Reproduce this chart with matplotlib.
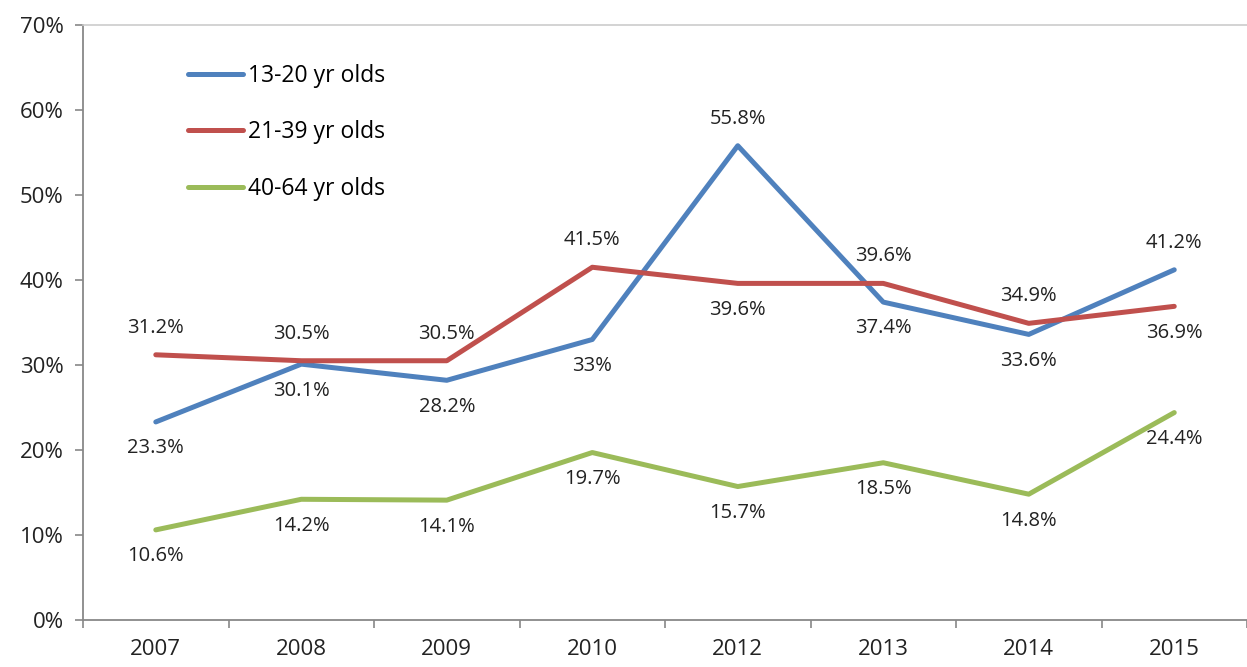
import numpy as np
import matplotlib.pyplot as plt
from matplotlib.ticker import FixedLocator

plt.rcParams['font.family'] = ['Open Sans', 'DejaVu Sans']

years = ['2007', '2008', '2009', '2010', '2012', '2013', '2014', '2015']
teen = [23.3, 30.1, 28.2, 33, 55.8, 37.4, 33.6, 41.2]
young = [31.2, 30.5, 30.5, 41.5, 39.6, 39.6, 34.9, 36.9]
middle = [10.6, 14.2, 14.1, 19.7, 15.7, 18.5, 14.8, 24.4]

# 1 = label above the point, -1 = below
teen_side = [-1, -1, -1, -1, 1, -1, -1, 1]
young_side = [1, 1, 1, 1, -1, 1, 1, -1]
middle_side = [-1, -1, -1, -1, -1, -1, -1, -1]

series = [
    ('13-20 yr olds', teen, teen_side, '#4F81BD'),
    ('21-39 yr olds', young, young_side, '#C0504D'),
    ('40-64 yr olds', middle, middle_side, '#9BBB59'),
]

fig = plt.figure(figsize=(12.47, 6.67), dpi=100)
ax = fig.add_axes([0.0666, 0.0705, 0.9334, 0.892])

x = np.arange(len(years)) + 0.5
for name, vals, side, col in series:
    ax.plot(x, vals, color=col, lw=3.6, label=name, solid_capstyle='round')
    for xi, v, s in zip(x, vals, side):
        txt = ('%g' % v) + '%'
        dy = 19.5 if s > 0 else -19
        ax.annotate(txt, (xi, v), xytext=(0, dy), textcoords='offset points',
                    ha='center', va='center', fontsize=14.5, color='#222222')

ax.set_xlim(0, len(years))
ax.set_ylim(0, 70)
ax.set_yticks(np.arange(0, 71, 10))
ax.set_yticklabels(['%d%%' % v for v in range(0, 71, 10)])
ax.xaxis.set_major_locator(FixedLocator(np.arange(0, len(years) + 1)))
ax.xaxis.set_minor_locator(FixedLocator(x))
ax.set_xticklabels([], minor=False)
ax.set_xticklabels(years, minor=True)
ax.tick_params(axis='x', which='major', length=6, color='#888888', width=1.2)
ax.tick_params(axis='x', which='minor', length=0, pad=14, labelsize=16, labelcolor='#222222')
ax.tick_params(axis='y', length=6, color='#888888', width=1.2, pad=8, labelsize=16, labelcolor='#222222')

for sp in ['left', 'bottom']:
    ax.spines[sp].set_color('#888888')
    ax.spines[sp].set_linewidth(1.3)
ax.spines['right'].set_visible(False)
ax.spines['top'].set_color('#cccccc')
ax.spines['top'].set_linewidth(1.2)

ax.legend(loc='upper left', bbox_to_anchor=(0.0902, 0.935), frameon=False,
          fontsize=16.5, handlelength=2.4, handletextpad=0.22, labelspacing=1.42,
          borderaxespad=0, borderpad=0)

fig.savefig('out.png', dpi=100)
